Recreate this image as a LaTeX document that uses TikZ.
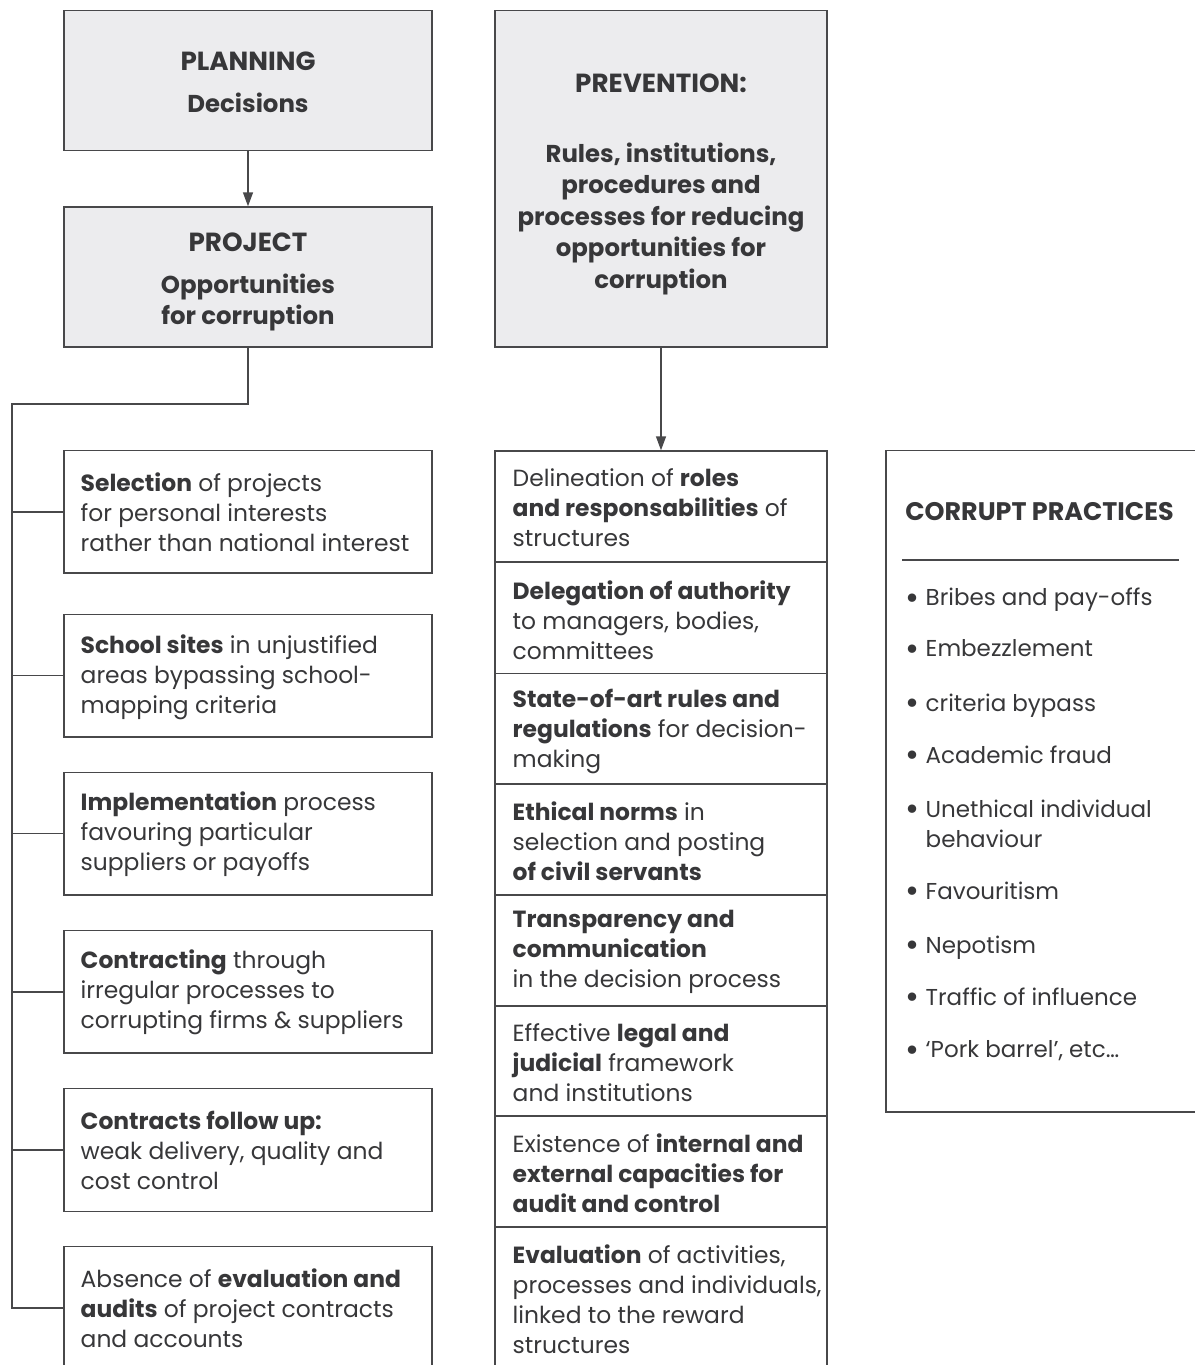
\documentclass[tikz,border=0pt]{standalone}
\usepackage{fontspec}
\setmainfont{Poppins}
\usepackage{xcolor}
\usetikzlibrary{arrows.meta}
\definecolor{inkgray}{RGB}{55,55,57}
\definecolor{linegray}{RGB}{72,72,74}
\definecolor{boxgray}{RGB}{236,236,238}
\newcommand{\bul}{\makebox[10pt][l]{\raisebox{-1.6pt}{\fontsize{17}{15}\selectfont •}}}

\begin{document}
\begin{tikzpicture}[x=0.5pt,y=-0.5pt,line width=0.7pt,
  topbox/.style={draw=linegray,fill=boxgray},
  headtxt/.style={text=inkgray,align=center,font=\fontsize{12.2}{15.8}\selectfont\bfseries},
  leftbox/.style={draw=linegray,minimum width=184pt,minimum height=61.25pt},
  stepcell/.style={draw=linegray,minimum width=166pt,minimum height=55.5pt},
  bodytxt/.style={anchor=west,align=left,text=inkgray,font=\fontsize{11.7}{15}\selectfont},
  listitem/.style={anchor=west,align=left,text=inkgray,font=\fontsize{11.5}{15}\selectfont},
  link/.style={draw=linegray,line width=0.7pt},
  arrowlink/.style={link,-{Triangle[length=7pt,width=5pt]}}]
\tikzstyle{every node}+=[inner sep=0pt]
\useasboundingbox (0,0) rectangle (1194,1365);
\node [topbox,minimum width=184pt,minimum height=70pt] (plan) at (248,80.7) {};
\node [headtxt] (plant) at (248,82.7) {{\fontsize{13.1}{15.8}\selectfont PLANNING}\\[5.2pt]Decisions};
\node [topbox,minimum width=184pt,minimum height=70pt] (proj) at (248,277) {};
\node [headtxt] (projt) at (248,282) {{\fontsize{13.1}{15.8}\selectfont PROJECT}\\[5.2pt]Opportunities\\for corruption};
\node [topbox,minimum width=166pt,minimum height=168.2pt] (prev) at (661,178.8) {};
\node [headtxt] (prevt) at (661,184.3) {{\fontsize{13.1}{15.8}\selectfont PREVENTION:}\\[19.2pt]Rules, institutions,\\procedures and\\processes for reducing\\opportunities for\\corruption};
\draw [arrowlink] (plan) -- (proj);
\node [leftbox] (sel) at (248,511.8) {};
\node [bodytxt] (selt) at (80,512.5) {\textbf{Selection} of projects\\for personal interests\\rather than national interest};
\node [leftbox] (site) at (248,675.7) {};
\node [bodytxt] (sitet) at (80,677) {\textbf{School sites} in unjustified\\areas bypassing school-\\mapping criteria};
\node [leftbox] (impl) at (248,833.7) {};
\node [bodytxt] (implt) at (80,834.5) {\textbf{Implementation} process\\favouring particular\\suppliers or payoffs};
\node [leftbox] (cont) at (248,991.8) {};
\node [bodytxt] (contt) at (80,992.5) {\textbf{Contracting} through\\irregular processes to\\corrupting firms \& suppliers};
\node [leftbox] (follow) at (248,1150) {};
\node [bodytxt] (followt) at (80,1150.5) {\textbf{Contracts follow up:}\\weak delivery, quality and\\cost control};
\node [leftbox] (audit) at (248,1308) {};
\node [bodytxt] (auditt) at (80,1308.5) {Absence of \textbf{evaluation and}\\\textbf{audits} of project contracts\\and accounts};
\coordinate (trunk) at (12,404);
\draw [link] (proj.south) |- (trunk) |- (audit.west);
\draw [link] (trunk |- sel.west) -- (sel.west);
\draw [link] (trunk |- site.west) -- (site.west);
\draw [link] (trunk |- impl.west) -- (impl.west);
\draw [link] (trunk |- cont.west) -- (cont.west);
\draw [link] (trunk |- follow.west) -- (follow.west);
\node [stepcell] (roles) at (661,506.5) {};
\node [bodytxt] (rolest) at (512,508) {Delineation of \textbf{roles}\\\textbf{and responsabilities} of\\structures};
\node [stepcell] (deleg) at (661,617.8) {};
\node [bodytxt] (delegt) at (512,620) {\textbf{Delegation of authority}\\to managers, bodies,\\committees};
\node [stepcell] (rules) at (661,728.7) {};
\node [bodytxt] (rulest) at (512,731) {\textbf{State-of-art rules and}\\\textbf{regulations} for decision-\\making};
\node [stepcell] (ethic) at (661,839.5) {};
\node [bodytxt] (ethict) at (512,841) {\textbf{Ethical norms} in\\selection and posting\\\textbf{of civil servants}};
\node [stepcell] (transp) at (661,950.5) {};
\node [bodytxt] (transpt) at (512,952) {\textbf{Transparency and}\\\textbf{communication}\\in the decision process};
\node [stepcell] (legal) at (661,1061.2) {};
\node [bodytxt] (legalt) at (512,1063) {Effective \textbf{legal and}\\\textbf{judicial} framework\\and institutions};
\node [stepcell] (control) at (661,1171.5) {};
\node [bodytxt] (controlt) at (512,1173.5) {Existence of \textbf{internal and}\\\textbf{external capacities for}\\\textbf{audit and control}};
\node [stepcell,minimum height=73.5pt] (evalu) at (661,1300.2) {};
\node [bodytxt] (evalut) at (512,1299.5) {\textbf{Evaluation} of activities,\\processes and individuals,\\linked to the reward\\structures};
\draw [arrowlink] (prev) -- (roles);
\node [draw=linegray,minimum width=157pt,minimum height=330.8pt] (cpbox) at (1043,781) {};
\node [text=inkgray,font=\fontsize{12.7}{15}\selectfont\bfseries] (cptitle) at (1039.5,512) {CORRUPT PRACTICES};
\draw [link] (902,560) -- (1179,560);
\node [listitem] (p1) at (905,600) {\bul Bribes and pay-offs};
\node [listitem] (p2) at (905,650) {\bul Embezzlement};
\node [listitem] (p3) at (905,706) {\bul criteria bypass};
\node [listitem] (p4) at (905,756) {\bul Academic fraud};
\node [listitem] (p5) at (905,824) {\bul Unethical individual\\\hspace*{10pt}behaviour};
\node [listitem] (p6) at (905,892) {\bul Favouritism};
\node [listitem] (p7) at (905,948) {\bul Nepotism};
\node [listitem] (p8) at (905,998) {\bul Traffic of influence};
\node [listitem] (p9) at (905,1051) {\bul ‘Pork barrel’, etc…};
\end{tikzpicture}
\end{document}
